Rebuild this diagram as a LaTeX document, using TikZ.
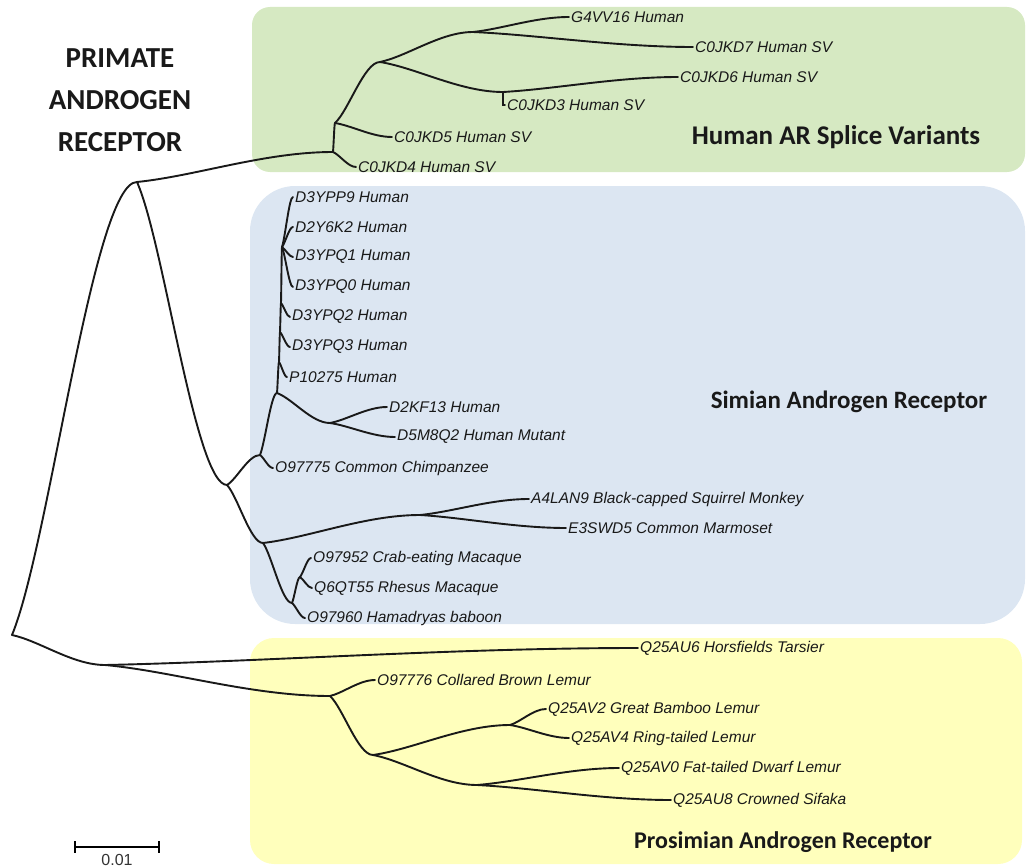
\documentclass[tikz,border=0pt]{standalone}
\usepackage{fontspec}
\setmainfont{Liberation Sans}
\newfontfamily\headfont{Carlito}
\usetikzlibrary{calc}

\definecolor{svgreen}{RGB}{214,233,194}
\definecolor{simblue}{RGB}{220,230,242}
\definecolor{prosyellow}{RGB}{255,255,188}

\tikzset{
  branch/.style={line width=1.9pt, line cap=round, black!90},
  leaf/.style={font=\fontsize{15.5}{18}\selectfont\itshape, text=black!90, anchor=west, inner sep=2pt},
  clade/.style={font=\headfont\bfseries\fontsize{25}{30}\selectfont, text=black!90},
}
% curved branch from a parent point to a child point
\newcommand{\twig}[2]{\draw[branch] let \p1=(#1), \p2=(#2) in
  (\p1) .. controls (0.7*\x1+0.3*\x2,0.8*\y1+0.2*\y2) and (0.35*\x1+0.65*\x2,\y2) .. (\p2);}

\begin{document}
\begin{tikzpicture}[x=1pt, y=-1pt]
  \useasboundingbox (0,0) rectangle (1029,867);
  % clade panels
  \fill[svgreen, rounded corners=18] (252,7) rectangle (1025,172);
  \fill[simblue, rounded corners=45] (250,186) rectangle (1025,624);
  \fill[prosyellow, rounded corners=24] (250,638) rectangle (1022,864);

  \node[clade, align=center, font=\headfont\bfseries\fontsize{29}{42}\selectfont] (title) at (120,100) {PRIMATE\\ANDROGEN\\RECEPTOR};
  \node[clade, font=\headfont\bfseries\fontsize{27}{30}\selectfont] (svlab) at (836,137) {Human AR Splice Variants};
  \node[clade] (simlab) at (849,402) {Simian Androgen Receptor};
  \node[clade, font=\headfont\bfseries\fontsize{24}{30}\selectfont] (proslab) at (783,842) {Prosimian Androgen Receptor};

  % inner nodes
  \coordinate (root) at (12,635);
  \coordinate (prim) at (137,182);
  \coordinate (sv0) at (333,152);
  \coordinate (sv1) at (335,123);
  \coordinate (sv2) at (380,62);
  \coordinate (sv3) at (473,32);
  \coordinate (sv4) at (503,92);
  \coordinate (sim) at (227,485);
  \coordinate (hc) at (260,455);
  \coordinate (hum) at (277,393);
  \coordinate (mut) at (330,423);
  \coordinate (h1) at (279,362);
  \coordinate (h2) at (280,332);
  \coordinate (h3) at (281,303);
  \coordinate (h4) at (282,247);
  \coordinate (nwm) at (263,543);
  \coordinate (nw) at (420,515);
  \coordinate (ow) at (292,603);
  \coordinate (mac) at (300,577);
  \coordinate (pros) at (105,665);
  \coordinate (lem) at (330,696);
  \coordinate (l1) at (373,755);
  \coordinate (l2) at (510,725);
  \coordinate (l3) at (477,785);

  % leaves
  \node[leaf] (g4vv16) at (569,17) {G4VV16 Human};
  \node[leaf] (c0jkd7) at (693,47) {C0JKD7 Human SV};
  \node[leaf] (c0jkd6) at (678,77) {C0JKD6 Human SV};
  \node[leaf] (c0jkd3) at (505,105) {C0JKD3 Human SV};
  \node[leaf] (c0jkd5) at (392,137) {C0JKD5 Human SV};
  \node[leaf] (c0jkd4) at (356,167) {C0JKD4 Human SV};
  \node[leaf] (d3ypp9) at (293,197) {D3YPP9 Human};
  \node[leaf] (d2y6k2) at (293,227) {D2Y6K2 Human};
  \node[leaf] (d3ypq1) at (293,257) {D3YPQ1 Human};
  \node[leaf] (d3ypq0) at (293,287) {D3YPQ0 Human};
  \node[leaf] (d3ypq2) at (290,317) {D3YPQ2 Human};
  \node[leaf] (d3ypq3) at (290,347) {D3YPQ3 Human};
  \node[leaf] (p10275) at (287,377) {P10275 Human};
  \node[leaf] (d2kf13) at (387,407) {D2KF13 Human};
  \node[leaf] (d5m8q2) at (395,437) {D5M8Q2 Human Mutant};
  \node[leaf] (o97775) at (273,468) {O97775 Common Chimpanzee};
  \node[leaf] (a4lan9) at (529,499) {A4LAN9 Black-capped Squirrel Monkey};
  \node[leaf] (e3swd5) at (566,528) {E3SWD5 Common Marmoset};
  \node[leaf] (o97952) at (311,558) {O97952 Crab-eating Macaque};
  \node[leaf] (q6qt55) at (312,588) {Q6QT55 Rhesus Macaque};
  \node[leaf] (o97960) at (305,618) {O97960 Hamadryas baboon};
  \node[leaf] (q25au6) at (638,648) {Q25AU6 Horsfields Tarsier};
  \node[leaf] (o97776) at (375,680) {O97776 Collared Brown Lemur};
  \node[leaf] (q25av2) at (546,709) {Q25AV2 Great Bamboo Lemur};
  \node[leaf] (q25av4) at (569,738) {Q25AV4 Ring-tailed Lemur};
  \node[leaf] (q25av0) at (619,768) {Q25AV0 Fat-tailed Dwarf Lemur};
  \node[leaf] (q25au8) at (671,800) {Q25AU8 Crowned Sifaka};

  % anthropoid part
  \twig{root}{prim}
  \twig{prim}{sv0}
  \twig{prim}{sim}
  \twig{sv0}{sv1}
  \twig{sv0}{c0jkd4.west}
  \twig{sv1}{c0jkd5.west}
  \twig{sv1}{sv2}
  \twig{sv2}{sv3}
  \twig{sv2}{sv4}
  \twig{sv3}{g4vv16.west}
  \twig{sv3}{c0jkd7.west}
  \twig{sv4}{c0jkd6.west}
  \draw[branch] (sv4) |- (c0jkd3.west);
  \twig{sim}{hc}
  \twig{sim}{nwm}
  \twig{hc}{hum}
  \twig{hc}{o97775.west}
  \twig{hum}{mut}
  \twig{mut}{d2kf13.west}
  \twig{mut}{d5m8q2.west}
  \twig{hum}{h1}
  \twig{h1}{h2}
  \twig{h2}{h3}
  \twig{h3}{h4}
  \twig{h1}{p10275.west}
  \twig{h2}{d3ypq3.west}
  \twig{h3}{d3ypq2.west}
  \twig{h4}{d3ypp9.west}
  \twig{h4}{d2y6k2.west}
  \twig{h4}{d3ypq1.west}
  \twig{h4}{d3ypq0.west}
  \twig{nwm}{nw}
  \twig{nwm}{ow}
  \twig{nw}{a4lan9.west}
  \twig{nw}{e3swd5.west}
  \twig{ow}{mac}
  \twig{ow}{o97960.west}
  \twig{mac}{o97952.west}
  \twig{mac}{q6qt55.west}
  % prosimian part
  \twig{root}{pros}
  \twig{pros}{q25au6.west}
  \twig{pros}{lem}
  \twig{lem}{o97776.west}
  \twig{lem}{l1}
  \twig{l1}{l2}
  \twig{l1}{l3}
  \twig{l2}{q25av2.west}
  \twig{l2}{q25av4.west}
  \twig{l3}{q25av0.west}
  \twig{l3}{q25au8.west}

  % scale bar
  \coordinate (sbl) at (75,847);
  \coordinate (sbr) at (159,847);
  \draw[line width=1.8pt] (sbl) -- (sbr);
  \draw[line width=1.8pt] ($(sbl)+(0,-6)$) -- ($(sbl)+(0,6)$);
  \draw[line width=1.8pt] ($(sbr)+(0,-6)$) -- ($(sbr)+(0,6)$);
  \node[font=\fontsize{16}{18}\selectfont, text=black!80] (sbtxt) at (117,860) {0.01};
\end{tikzpicture}
\end{document}
